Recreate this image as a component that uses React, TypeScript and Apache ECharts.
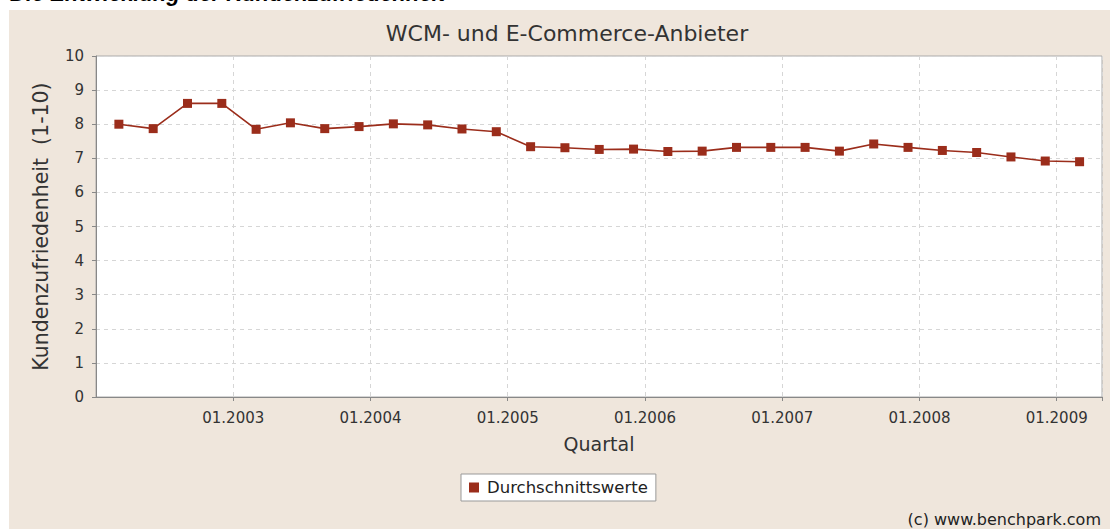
import React, { useEffect, useRef } from "react";
import * as echarts from "echarts";

const quarters = [
  "03.2002", "06.2002", "09.2002", "12.2002",
  "03.2003", "06.2003", "09.2003", "12.2003",
  "03.2004", "06.2004", "09.2004", "12.2004",
  "03.2005", "06.2005", "09.2005", "12.2005",
  "03.2006", "06.2006", "09.2006", "12.2006",
  "03.2007", "06.2007", "09.2007", "12.2007",
  "03.2008", "06.2008", "09.2008", "12.2008",
  "03.2009",
];

const satisfaction = [
  8.0, 7.87, 8.61, 8.61,
  7.85, 8.04, 7.87, 7.93,
  8.01, 7.98, 7.86, 7.78,
  7.34, 7.31, 7.26, 7.27,
  7.2, 7.21, 7.32, 7.32,
  7.32, 7.21, 7.42, 7.32,
  7.23, 7.17, 7.04, 6.92,
  6.9,
];

const yTicks = [0, 10, 1];
const xRange = [2002, 2009.33];

const title = "WCM- und E-Commerce-Anbieter";
const headline = "Die Entwicklung der Kundenzufriedenheit";
const yName = "Kundenzufriedenheit  (1-10)";
const xName = "Quartal";
const seriesName = "Durchschnittswerte";
const copyright = "(c) www.benchpark.com";

const FONT = "DejaVu Sans";
const RED = "#9b2d1b";

function toYear(q: string): number {
  const [m, y] = q.split(".");
  return Number(y) + (Number(m) - 1) / 12;
}

export default function App() {
  const ref = useRef<HTMLDivElement>(null);

  useEffect(() => {
    if (!ref.current) return;
    const chart = echarts.init(ref.current, null, { renderer: "svg" });
    const data = quarters.map((q, i) => [toYear(q), satisfaction[i]]);
    chart.setOption({
      animation: false,
      backgroundColor: "#ffffff",
      title: {
        text: title,
        left: 562,
        top: 17,
        textAlign: "center",
        textStyle: {
          fontFamily: FONT,
          fontSize: 22,
          fontWeight: "normal",
          color: "#333333",
        },
      },
      graphic: [
        {
          type: "rect",
          z: -10,
          silent: true,
          shape: { x: 9, y: 10, width: 1101, height: 519 },
          style: { fill: "#efe6dc" },
        },
        {
          type: "text",
          z: -5,
          silent: true,
          x: 10,
          y: -7,
          style: {
            text: headline,
            fontFamily: "Liberation Sans",
            fontSize: 22,
            fontWeight: "bold",
            fontStyle: "italic",
            fill: "#000000",
            verticalAlign: "middle",
            align: "left",
          },
        },
        {
          type: "text",
          silent: true,
          x: 1101,
          y: 519,
          style: {
            text: copyright,
            fontFamily: FONT,
            fontSize: 16,
            fill: "#222222",
            align: "right",
            verticalAlign: "middle",
          },
        },
      ],
      legend: {
        left: 461,
        top: 474,
        padding: [5, 8, 5, 8],
        backgroundColor: "#ffffff",
        borderColor: "#999999",
        borderWidth: 1,
        borderRadius: 0,
        itemWidth: 10,
        itemHeight: 10,
        icon: "rect",
        data: [seriesName],
        textStyle: {
          fontFamily: FONT,
          fontSize: 16.5,
          color: "#222222",
          padding: [0, 0, 0, 3],
        },
      },
      grid: {
        left: 96,
        right: 8,
        top: 56,
        bottom: 132,
        show: true,
        backgroundColor: "#ffffff",
        borderColor: "#aaaaaa",
        borderWidth: 1,
      },
      xAxis: {
        type: "value",
        min: xRange[0],
        max: xRange[1],
        interval: 1,
        name: xName,
        nameLocation: "middle",
        nameGap: 37,
        nameTextStyle: { fontFamily: FONT, fontSize: 19, color: "#333333" },
        axisLine: { show: true, lineStyle: { color: "#888888", width: 1 } },
        axisTick: { show: true, length: 4, lineStyle: { color: "#888888" } },
        axisLabel: {
          showMinLabel: false,
          margin: 13,
          fontFamily: FONT,
          fontSize: 15,
          color: "#333333",
          formatter: (v: number) =>
            Math.abs(v - Math.round(v)) < 1e-6 && v > xRange[0] + 0.5
              ? "01." + Math.round(v)
              : "",
        },
        splitLine: {
          show: true,
          lineStyle: { color: "#d6d6d6", type: [4, 4], width: 1 },
        },
      },
      yAxis: {
        type: "value",
        min: yTicks[0],
        max: yTicks[1],
        interval: yTicks[2],
        name: yName,
        nameLocation: "middle",
        nameGap: 45,
        nameTextStyle: { fontFamily: FONT, fontSize: 20.5, color: "#333333" },
        axisLine: { show: true, lineStyle: { color: "#888888", width: 1 } },
        axisTick: { show: true, length: 4, lineStyle: { color: "#888888" } },
        axisLabel: {
          margin: 12,
          fontFamily: FONT,
          fontSize: 15,
          color: "#333333",
        },
        splitLine: {
          show: true,
          lineStyle: { color: "#d6d6d6", type: [4, 4], width: 1 },
        },
      },
      series: [
        {
          name: seriesName,
          type: "line",
          data,
          symbol: "rect",
          symbolSize: 9,
          showSymbol: true,
          itemStyle: { color: RED },
          lineStyle: { color: RED, width: 1.6 },
        },
      ],
    });
    return () => chart.dispose();
  }, []);

  return (
    <div
      ref={ref}
      style={{ position: "absolute", left: 0, top: 0, width: 1110, height: 529 }}
    />
  );
}
